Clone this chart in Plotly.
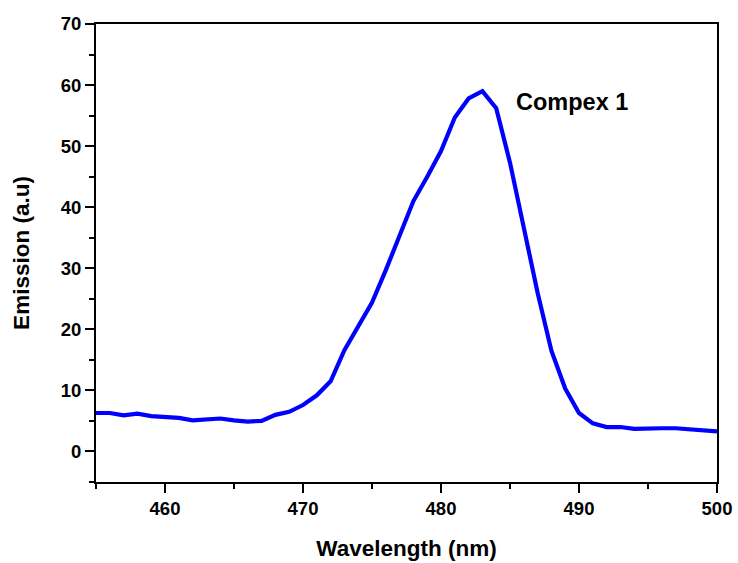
import plotly.graph_objects as go

wavelength = list(range(455, 501))
emission = [6.3, 6.3, 5.9, 6.2, 5.8, 5.7, 5.5, 5.1, 5.3, 5.4,
            5.1, 4.9, 5.0, 6.0, 6.5, 7.6, 9.2, 11.5, 16.6, 20.5,
            24.4, 29.7, 35.5, 41.0, 45.0, 49.2, 54.7, 57.8, 59.0, 56.2,
            47.3, 36.5, 26.0, 16.5, 10.3, 6.3, 4.6, 4.0, 4.0, 3.7,
            3.8, 3.8, 3.8, 3.6, 3.5, 3.3]
label = "Compex 1"
xticks = [460, 470, 480, 490, 500]
yticks = [0, 10, 20, 30, 40, 50, 60, 70]

FAM = "Liberation Sans, Arial"

fig = go.Figure()
fig.add_trace(go.Scatter(x=wavelength, y=emission, mode="lines",
                         line=dict(color="#0000FF", width=4.2), showlegend=False))

fig.add_annotation(x=485.3, y=57.3, text="<b>" + label + "</b>", showarrow=False,
                   xanchor="left", yanchor="middle",
                   font=dict(family=FAM, size=23.5, color="black"))

font = dict(family=FAM, size=18.5, color="black")
axis_common = dict(showline=True, linecolor="black", linewidth=2, mirror=True,
                   ticks="outside", ticklen=9, tickwidth=2, tickcolor="black",
                   showgrid=False, zeroline=False, tickfont=font,
                   minor=dict(ticks="outside", ticklen=5, tickwidth=2, tickcolor="black", dtick=5))

fig.update_xaxes(range=[455, 500], tickvals=xticks,
                 ticktext=["<b>%d</b>" % v for v in xticks],
                 title=dict(text="<b>Wavelength (nm)</b>", font=dict(family=FAM, size=22.5, color="black"), standoff=22),
                 **axis_common)
fig.update_yaxes(range=[-5, 70], tickvals=yticks,
                 ticktext=["<b>%d</b>" % v for v in yticks],
                 title=dict(text="<b>Emission (a.u)</b>", font=dict(family=FAM, size=22.5, color="black"), standoff=25),
                 **axis_common)

fig.update_layout(width=738, height=563, margin=dict(l=96, r=21, t=24, b=81, autoexpand=False),
                  plot_bgcolor="white", paper_bgcolor="white")

fig.write_html("out.html", config={"displayModeBar": False},
               post_script="document.body.style.margin='0px';")
